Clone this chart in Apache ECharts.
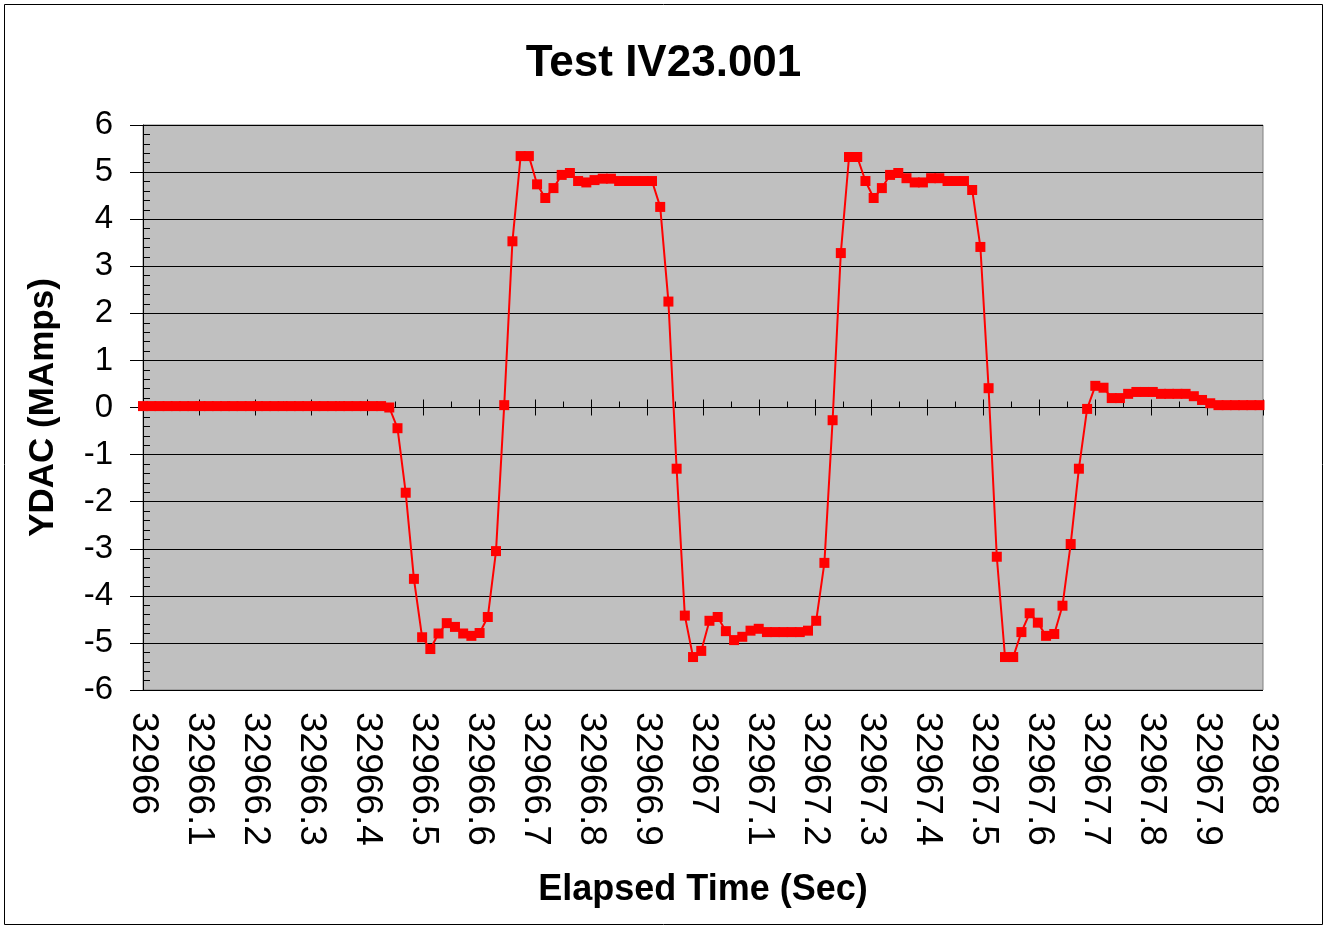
<!DOCTYPE html>
<html>
<head>
<meta charset="utf-8">
<title>Test IV23.001</title>
<script src="https://cdn.jsdelivr.net/npm/echarts@6/dist/echarts.min.js"></script>
<style>
  html, body { margin: 0; padding: 0; background: #fff; }
  #chart { width: 1327px; height: 928px; }
</style>
</head>
<body>
<div id="chart"></div>
<script>
// sample clock: first sample at 32966 s, roughly 68 samples per second
const startTime = 32966;
const sampleStep = 0.01466;

// YDAC readings (MAmps), one per sample
const ydac = [
  0.03, 0.03, 0.03, 0.03, 0.03, 0.03, 0.03, 0.03, 0.03, 0.03,
  0.03, 0.03, 0.03, 0.03, 0.03, 0.03, 0.03, 0.03, 0.03, 0.03,
  0.03, 0.03, 0.03, 0.03, 0.03, 0.03, 0.03, 0.03, 0.03, 0.03,
  0.0, -0.44, -1.81, -3.64, -4.88, -5.13, -4.80, -4.58, -4.66, -4.80,
  -4.85, -4.79, -4.45, -3.05, 0.05, 3.53, 5.34, 5.34, 4.74, 4.45,
  4.66, 4.94, 4.98, 4.81, 4.78, 4.83, 4.86, 4.86, 4.81, 4.81,
  4.81, 4.81, 4.81, 4.26, 2.25, -1.30, -4.42, -5.30, -5.17, -4.53,
  -4.45, -4.75, -4.94, -4.87, -4.74, -4.70, -4.77, -4.77, -4.77, -4.77,
  -4.77, -4.74, -4.53, -3.30, -0.27, 3.28, 5.32, 5.32, 4.81, 4.45,
  4.66, 4.94, 4.98, 4.87, 4.78, 4.78, 4.87, 4.87, 4.81, 4.81,
  4.81, 4.62, 3.41, 0.41, -3.17, -5.30, -5.30, -4.77, -4.37, -4.57,
  -4.85, -4.81, -4.21, -2.90, -1.30, -0.03, 0.46, 0.42, 0.20, 0.20,
  0.29, 0.33, 0.33, 0.33, 0.29, 0.29, 0.29, 0.29, 0.24, 0.16,
  0.09, 0.05, 0.05, 0.05, 0.05, 0.05, 0.05
];

const xMin = 32966, xMax = 32968, xStep = 0.1;
const yMin = -6, yMax = 6, yStep = 1;

const points = ydac.map((v, i) => [startTime + i * sampleStep, v]);

const chart = echarts.init(document.getElementById('chart'));

const font = '"Liberation Sans", Arial, sans-serif';

const option = {
  animation: false,
  textStyle: { fontFamily: font },
  title: {
    text: 'Test IV23.001',
    left: 'center',
    top: 37,
    textStyle: { fontSize: 44, fontWeight: 'bold', color: '#000', fontFamily: font }
  },
  graphic: [{
    type: 'rect',
    shape: { x: 4.5, y: 4.5, width: 1318, height: 920 },
    style: { fill: null, stroke: '#000', lineWidth: 1 },
    silent: true
  }],
  grid: {
    left: 143, top: 125, right: 64, bottom: 238,
    show: true,
    backgroundColor: '#C0C0C0',
    borderColor: '#808080',
    borderWidth: 1
  },
  xAxis: [
    {
      // labels along the bottom of the plot
      type: 'value', min: xMin, max: xMax, interval: xStep,
      position: 'bottom',
      name: 'Elapsed Time (Sec)',
      nameLocation: 'middle',
      nameGap: 182,
      nameTextStyle: { fontSize: 36, fontWeight: 'bold', color: '#000', fontFamily: font },
      axisLine: { show: false, onZero: false },
      axisTick: { show: false },
      splitLine: { show: false },
      axisLabel: {
        rotate: -90, margin: 22, fontSize: 37, color: '#000', fontFamily: font,
        formatter: v => String(+v.toFixed(1))
      }
    },
    {
      // axis line through zero, ticks above it
      type: 'value', min: xMin, max: xMax, interval: xStep,
      position: 'bottom',
      axisLine: { show: true, onZero: true, lineStyle: { color: '#000', width: 1 } },
      axisTick: { show: true, inside: true, length: 8, lineStyle: { color: '#000' } },
      minorTick: { show: true, splitNumber: 2, length: 6, lineStyle: { color: '#000' } },
      axisLabel: { show: false },
      splitLine: { show: false }
    },
    {
      // lower half of the crossing major ticks
      type: 'value', min: xMin, max: xMax, interval: xStep,
      position: 'bottom',
      axisLine: { show: false, onZero: true },
      axisTick: { show: true, inside: false, length: 8, lineStyle: { color: '#000' } },
      axisLabel: { show: false },
      splitLine: { show: false }
    }
  ],
  yAxis: [
    {
      type: 'value', min: yMin, max: yMax, interval: yStep,
      position: 'left',
      name: 'YDAC (MAmps)',
      nameLocation: 'middle',
      nameGap: 82,
      nameTextStyle: { fontSize: 35, fontWeight: 'bold', color: '#000', fontFamily: font },
      axisLine: { show: true, onZero: false, lineStyle: { color: '#000', width: 1 } },
      axisTick: { show: true, inside: false, length: 13, lineStyle: { color: '#000' } },
      axisLabel: { margin: 30, fontSize: 33, color: '#000', fontFamily: font },
      splitLine: { show: true, lineStyle: { color: '#000', width: 1 } }
    },
    {
      // minor ticks on the inside of the value axis
      type: 'value', min: yMin, max: yMax, interval: yStep,
      position: 'left',
      axisLine: { show: false, onZero: false },
      axisTick: { show: true, inside: true, length: 7, lineStyle: { color: '#000' } },
      minorTick: { show: true, splitNumber: 5, length: 7, lineStyle: { color: '#000' } },
      axisLabel: { show: false },
      splitLine: { show: false }
    }
  ],
  series: [{
    name: 'YDAC',
    type: 'line',
    xAxisIndex: 0,
    yAxisIndex: 0,
    data: points,
    symbol: 'rect',
    symbolSize: 10,
    showAllSymbol: true,
    clip: false,
    itemStyle: { color: '#FF0000' },
    lineStyle: { color: '#FF0000', width: 2 },
    z: 5
  }]
};

chart.setOption(option);
</script>
</body>
</html>
